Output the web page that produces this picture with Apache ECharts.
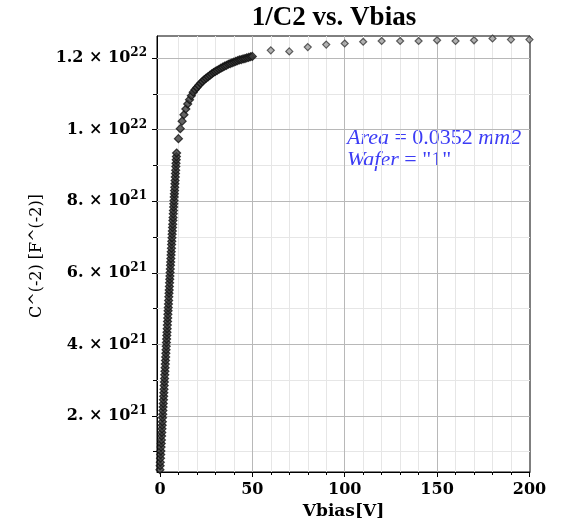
<!DOCTYPE html>
<html><head><meta charset="utf-8">
<script src="https://cdn.jsdelivr.net/npm/echarts@6/dist/echarts.min.js"></script>
<style>html,body{margin:0;padding:0;background:#fff}#c{width:567px;height:527px}</style>
</head><body><div id="c"></div>
<script>
// ---- data (1/C^2 in units of 1e21 F^-2) ----
const E21 = 1e21;
const vbiasA = [0,0.1,0.2,0.3,0.4,0.5,0.6,0.7,0.8,0.9,
  1.0,1.1,1.2,1.3,1.4,1.5,1.6,1.7,1.8,1.9,
  2.0,2.1,2.2,2.3,2.4,2.5,2.6,2.7,2.8,2.9,
  3.0,3.1,3.2,3.3,3.4,3.5,3.6,3.7,3.8,3.9,
  4.0,4.1,4.2,4.3,4.4,4.5,4.6,4.7,4.8,4.9,
  5.0,5.1,5.2,5.3,5.4,5.5,5.6,5.7,5.8,5.9,
  6.0,6.1,6.2,6.3,6.4,6.5,6.6,6.7,6.8,6.9,
  7.0,7.1,7.2,7.3,7.4,7.5,7.6,7.7,7.8,7.9,
  8.0,8.1,8.2,8.3,8.4,8.5,8.6,8.7,8.8,8.9,
  9.0];
const invC2A = [0.50,0.61,0.71,0.82,0.92,1.02,1.13,1.23,1.33,1.44,
  1.54,1.64,1.74,1.84,1.95,2.05,2.15,2.25,2.35,2.45,
  2.55,2.65,2.75,2.85,2.95,3.05,3.15,3.25,3.35,3.45,
  3.55,3.65,3.75,3.85,3.95,4.05,4.15,4.25,4.34,4.44,
  4.54,4.64,4.74,4.84,4.94,5.03,5.13,5.23,5.33,5.43,
  5.52,5.62,5.72,5.82,5.91,6.01,6.11,6.21,6.30,6.40,
  6.50,6.59,6.69,6.79,6.88,6.98,7.08,7.17,7.27,7.36,
  7.46,7.55,7.65,7.74,7.84,7.93,8.02,8.12,8.21,8.30,
  8.39,8.49,8.58,8.68,8.78,8.87,8.97,9.06,9.16,9.25,
  9.35];
const vbiasB = [10,11,12,13,14,15,16,17,18,19,20,21,22,23,24,25,26,27,28,29,30,
  31,32,33,34,35,36,37,38,39,40,41,42,43,44,45,46,47,48,49,50];
const invC2B = [9.75,10.03,10.24,10.42,10.58,10.72,10.84,10.95,11.05,11.12,11.18,
  11.24,11.30,11.35,11.40,11.44,11.48,11.52,11.56,11.60,11.63,
  11.66,11.69,11.72,11.75,11.78,11.80,11.83,11.85,11.87,11.89,
  11.91,11.93,11.95,11.96,11.98,11.99,12.01,12.02,12.04,12.05];
const vbiasC = [60,70,80,90,100,110,120,130,140,150,160,170,180,190,200];
const invC2C = [12.22,12.19,12.31,12.38,12.41,12.46,12.48,12.48,12.48,12.50,12.48,12.50,12.55,12.52,12.52];

// ---- ticks ----
const xTickValues = [0,50,100,150,200];
const xMinorTicks = [10,20,30,40,60,70,80,90,110,120,130,140,160,170,180,190];
const xMajorGrid = [50,100,150];
const yTickValuesE21 = [2,4,6,8,10,12];
const yTickMantissa = ['2.','4.','6.','8.','1.','1.2'];
const yTickExponent = ['21','21','21','21','22','22'];
const yMinorTicksE21 = [1,3,5,7,9,11];

const chart = echarts.init(document.getElementById('c'), null, {renderer:'canvas'});
const toPairs = (xs, ys) => xs.map((x,i)=>[x, ys[i]*E21]);
const denseData = toPairs(vbiasA,invC2A).concat(toPairs(vbiasB,invC2B));
const sparseData = toPairs(vbiasC,invC2C);
const yTicks = yTickValuesE21.map(v=>v*E21);
const yMinor = yMinorTicksE21.map(v=>v*E21);

const X_MIN=-1.6, X_MAX=200.3, Y_MIN=0.434*E21, Y_MAX=12.62*E21;
const serif = 'DejaVu Serif';

function yLabel(v){
  let best=0, bd=Infinity;
  yTicks.forEach((t,i)=>{const d=Math.abs(t-v); if(d<bd){bd=d;best=i;}});
  return '{m|'+yTickMantissa[best]+' \u00d7 10}{s|'+yTickExponent[best]+'}';
}

const gridLineSeries = (name, xs, ys, color) => ({
  type:'line', name, data:[], silent:true, z:1, animation:false,
  xAxisIndex:0, yAxisIndex:0,
  markLine:{silent:true, animation:false, symbol:['none','none'], label:{show:false},
    lineStyle:{color, width:1, type:'solid'},
    emphasis:{disabled:true},
    data: xs.map(v=>({xAxis:v})).concat(ys.map(v=>({yAxis:v})))}
});

chart.setOption({
  animation:false,
  grid:{left:157, top:36, right:37, bottom:55, show:true, borderColor:'#000', borderWidth:1, backgroundColor:'#fff'},
  xAxis:[
    {type:'value', min:X_MIN, max:X_MAX, position:'bottom',
     axisLine:{show:true, onZero:false, lineStyle:{color:'#000', width:1}},
     axisTick:{show:true, customValues:xTickValues, length:5, lineStyle:{color:'#000'}},
     axisLabel:{customValues:xTickValues, margin:10, fontFamily:serif, fontWeight:'bold', fontSize:16, color:'#000'},
     splitLine:{show:false},
     name:'Vbias[V]', nameLocation:'middle', nameGap:30,
     nameTextStyle:{fontFamily:serif, fontWeight:'bold', fontSize:17, color:'#000'}},
    {type:'value', min:X_MIN, max:X_MAX, position:'bottom',
     axisLine:{show:false, onZero:false},
     axisTick:{show:true, customValues:xMinorTicks, length:3, lineStyle:{color:'#000'}},
     axisLabel:{show:false}, splitLine:{show:false}}
  ],
  yAxis:[
    {type:'value', min:Y_MIN, max:Y_MAX, position:'left',
     axisLine:{show:true, onZero:false, lineStyle:{color:'#000', width:1}},
     axisTick:{show:true, customValues:yTicks, length:5, lineStyle:{color:'#000'}},
     axisLabel:{customValues:yTicks, margin:10, formatter:yLabel,
       rich:{
         m:{fontFamily:serif, fontWeight:'bold', fontSize:16, color:'#000'},
         s:{fontFamily:serif, fontWeight:'bold', fontSize:12, color:'#000', verticalAlign:'bottom', padding:[0,0,10,0]}
       }},
     splitLine:{show:false}},
    {type:'value', min:Y_MIN, max:Y_MAX, position:'left',
     axisLine:{show:false, onZero:false},
     axisTick:{show:true, customValues:yMinor, length:4, lineStyle:{color:'#000'}},
     axisLabel:{show:false}, splitLine:{show:false}}
  ],
  series:[
    gridLineSeries('minorGrid', xMinorTicks, yMinor, '#e6e6e6'),
    gridLineSeries('majorGrid', xMajorGrid, yTicks, '#b8b8b8'),
    {type:'scatter', name:'1/C2 dense', data:denseData, z:5, xAxisIndex:0, yAxisIndex:0,
     symbol:'diamond', symbolSize:[8,8],
     itemStyle:{color:'#3c3c3c', borderColor:'#111', borderWidth:1.2}, emphasis:{disabled:true}},
    {type:'scatter', name:'1/C2 sparse', data:sparseData, z:5, xAxisIndex:0, yAxisIndex:0,
     symbol:'diamond', symbolSize:[7,7],
     itemStyle:{color:'#a0a0a0', borderColor:'#3a3a3a', borderWidth:1.2}, emphasis:{disabled:true}}
  ],
  graphic:[
    {type:'text', x:334, y:18, silent:true,
     style:{text:'1/C2 vs. Vbias', fontFamily:'Liberation Serif', fontWeight:'bold', fontSize:27, fill:'#000',
       textAlign:'center', textVerticalAlign:'middle', align:'center', verticalAlign:'middle'}},
    {type:'text', x:37, y:256, rotation:Math.PI/2, silent:true,
     style:{text:'C^(-2) [F^(-2)]', fontFamily:serif, fontSize:16, fill:'#000',
       textAlign:'center', textVerticalAlign:'middle', align:'center', verticalAlign:'middle'}},
    {type:'text', x:347, y:138, silent:true,
     style:{text:'{i|Area} = 0.0352 {i|mm2}', fontFamily:'Liberation Serif', fontSize:22, fill:'#3c3cf5',
       textAlign:'left', textVerticalAlign:'middle', align:'left', verticalAlign:'middle',
       rich:{i:{fontFamily:'Liberation Serif', fontStyle:'italic', fontSize:22, fill:'#3c3cf5'}}}},
    {type:'text', x:347, y:160, silent:true,
     style:{text:'{i|Wafer} = "1"', fontFamily:'Liberation Serif', fontSize:22, fill:'#3c3cf5',
       textAlign:'left', textVerticalAlign:'middle', align:'left', verticalAlign:'middle',
       rich:{i:{fontFamily:'Liberation Serif', fontStyle:'italic', fontSize:22, fill:'#3c3cf5'}}}}
  ]
});
</script></body></html>
